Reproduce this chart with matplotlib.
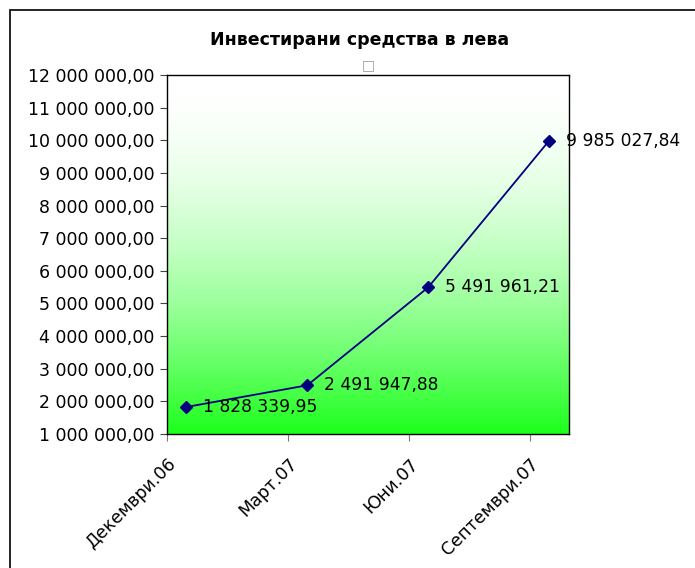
import numpy as np
import matplotlib
matplotlib.use("Agg")
import matplotlib.pyplot as plt
from matplotlib.colors import LinearSegmentedColormap
from matplotlib.patches import Rectangle

# data
months = ["Декември.06", "Март.07", "Юни.07", "Септември.07"]
amounts = [1828339.95, 2491947.88, 5491961.21, 9985027.84]
y_ticks = list(range(1000000, 12000001, 1000000))


def bg_fmt(v, decimals=2):
    s = f"{v:,.{decimals}f}"
    return s.replace(",", " ").replace(".", ",")


fig = plt.figure(figsize=(6.95, 5.68), dpi=100)
ax = fig.add_axes([167 / 695, 1 - 434 / 568, 402 / 695, 359 / 568])

# outer chart border
fig.patches.append(Rectangle((10 / 695, -0.1), 1.2, 1 - 10 / 568 + 0.1,
                             transform=fig.transFigure, fill=False,
                             edgecolor="black", linewidth=1.2))

x = np.arange(len(months))
ax.set_xlim(-0.16, 3.165)
ax.set_ylim(1000000, 12000000)

# gradient background: white top -> green bottom (lighter in the upper half)
cmap = LinearSegmentedColormap.from_list("g", ["#1cff1c", "#ffffff"])
depth = np.linspace(1, 0, 256) ** 1.8
grad = (1 - depth).reshape(-1, 1)
ax.imshow(grad, cmap=cmap, aspect="auto", origin="lower", vmin=0, vmax=1,
          extent=[-0.16, 3.165, 1000000, 12000000], zorder=0)

ax.plot(x, amounts, color="#000080", linewidth=1.3, marker="D",
        markersize=6.5, markerfacecolor="#000080", markeredgecolor="#000080",
        zorder=3, clip_on=False)

for xi, v in zip(x, amounts):
    ax.annotate(bg_fmt(v), (xi, v), xytext=(12, 0), textcoords="offset points",
                ha="left", va="center", fontsize=12.3, annotation_clip=False,
                zorder=4)

ax.set_yticks(y_ticks)
ax.set_yticklabels([bg_fmt(v) for v in y_ticks], fontsize=12.5)

ax.set_xticks(x - 0.16)
ax.set_xticklabels(months, rotation=45, ha="right", rotation_mode="anchor",
                   fontsize=12.5)
ax.tick_params(axis="y", direction="out", length=5, color="#444444", pad=4)
ax.tick_params(axis="x", direction="out", length=5, color="#777777", pad=10)

for sp in ax.spines.values():
    sp.set_color("black")
    sp.set_linewidth(1.0)

fig.text(360 / 695, 1 - 40 / 568, "Инвестирани средства в лева",
         ha="center", va="center", fontsize=12.5, fontweight="bold")
fig.text(368 / 695, 1 - 65 / 568, "□", ha="center", va="center",
         fontsize=10, color="#999999")

fig.savefig("out.png", dpi=100)
